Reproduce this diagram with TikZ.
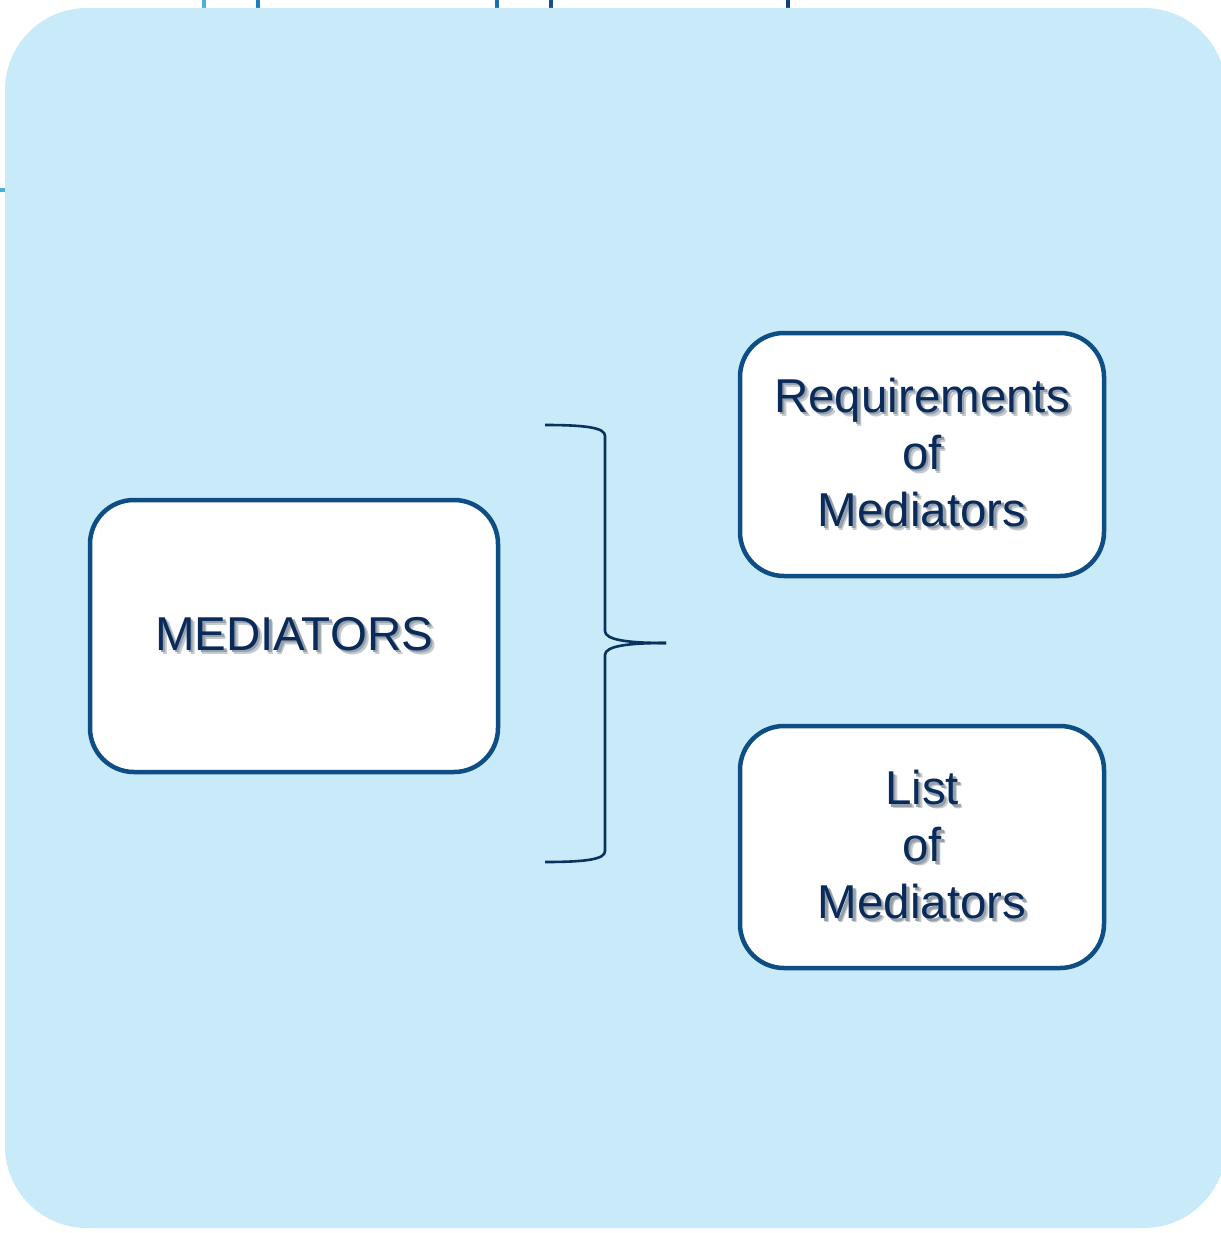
\documentclass[tikz,border=0pt]{standalone}
\usepackage{fontspec}
\setmainfont{Liberation Sans}
\definecolor{panelfill}{RGB}{200,234,249}
\definecolor{boxedge}{RGB}{14,78,132}
\definecolor{inktext}{RGB}{10,42,90}
\definecolor{braceink}{RGB}{10,50,95}
\definecolor{textshadeA}{RGB}{196,202,208}
\definecolor{textshadeB}{RGB}{150,160,170}
\definecolor{tickA}{RGB}{75,174,221}
\definecolor{tickB}{RGB}{28,125,192}
\definecolor{tickC}{RGB}{26,111,174}
\definecolor{tickD}{RGB}{26,78,138}
\definecolor{tickE}{RGB}{23,63,112}
% text with a soft grey drop shade behind it
\newcommand\shadedline[1]{%
  \makebox[0pt][l]{\raisebox{-4pt}{\hspace{4pt}\textcolor{textshadeA}{#1}}}%
  \makebox[0pt][l]{\raisebox{-2.5pt}{\hspace{2.5pt}\textcolor{textshadeB}{#1}}}%
  #1}
\tikzset{
  panel/.style={fill=panelfill, draw=none, rounded corners=82pt},
  card/.style={draw=boxedge, line width=4.5pt, fill=white, rounded corners=44pt,
    minimum width=#1, inner sep=0pt},
  cardtext/.style={text=inktext, align=center, inner sep=0pt,
    font=\fontsize{47.5}{57}\selectfont},
  bracket/.style={draw=braceink, line width=2.6pt},
  tick/.style={line width=4pt}
}
\begin{document}
\begin{tikzpicture}[x=1pt, y=-1pt]
  \useasboundingbox (0,0) rectangle (1220,1233);
  % small edge marks
  \draw[tick, tickA] (204,0) -- (204,8);
  \draw[tick, tickB] (258,0) -- (258,8);
  \draw[tick, tickC] (497,0) -- (497,8);
  \draw[tick, tickD] (551,0) -- (551,8);
  \draw[tick, tickE] (788,0) -- (788,8);
  \draw[tick, tickA] (0,190) -- (6,190);
  % background panel
  \path[panel] (5,8) rectangle (1226,1228);
  % cards
  \node[card=408pt, minimum height=272pt] (med) at (294,636) {};
  \node[card=364pt, minimum height=243pt] (req) at (922,454.5) {};
  \node[card=364pt, minimum height=242pt] (lst) at (922,847) {};
  % labels
  \node[cardtext] (medt) at (med.center) {\shadedline{MEDIATORS}};
  \node[cardtext] (reqt) at (req.center)
    {\shadedline{Requirements}\\\shadedline{of}\\\shadedline{Mediators}};
  \node[cardtext] (lstt) at (lst.center)
    {\shadedline{List}\\\shadedline{of}\\\shadedline{Mediators}};
  % curly bracket
  \coordinate (btop) at (545,425);
  \coordinate (btip) at (666,643);
  \coordinate (bbot) at (545,862);
  \draw[bracket] (btop) .. controls (588,425) and (605,428) .. (605,436)
    -- (605,631) .. controls (605,640) and (628,643) .. (btip);
  \draw[bracket] (btip) .. controls (628,643) and (605,646) .. (605,655)
    -- (605,851) .. controls (605,859) and (588,862) .. (bbot);
\end{tikzpicture}
\end{document}
